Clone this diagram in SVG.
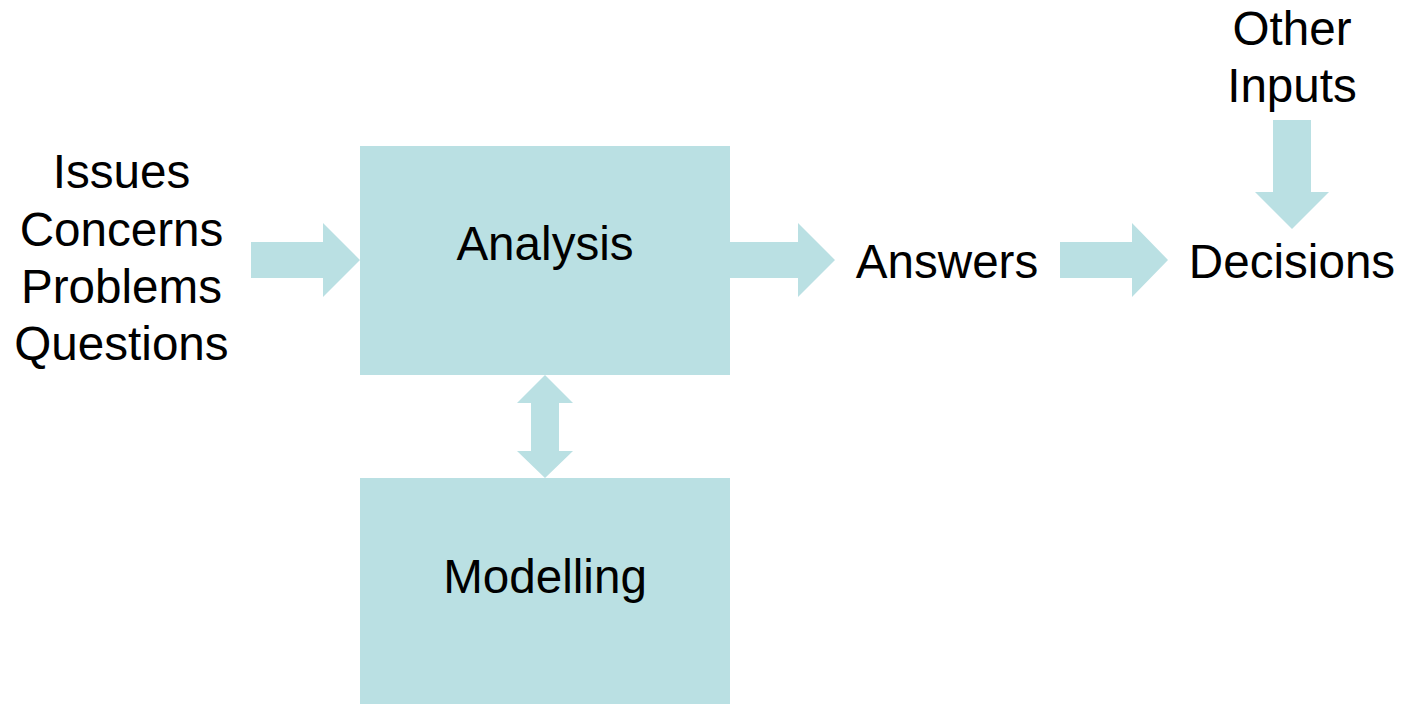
<svg xmlns="http://www.w3.org/2000/svg" width="1404" height="704" viewBox="0 0 1404 704">
<style>
.box{fill:#BAE0E3;}
.arr{fill:#BAE0E3;}
text{font-family:"Liberation Sans",Arial,sans-serif;font-size:47.6px;fill:#000;text-anchor:middle;}
</style>
<rect width="1404" height="704" fill="#fff"/>
<g id="connectors">
<polygon class="arr" points="251,242 323,242 323,223 360,260 323,297 323,278 251,278"/>
<polygon class="arr" points="545,375 573,403 559,403 559,451 573,451 545,478 517,451 531,451 531,403 517,403"/>
<polygon class="arr" points="730,242 798,242 798,223 835,260 798,297 798,278 730,278"/>
<polygon class="arr" points="1060,242 1132,242 1132,223 1168,260 1132,297 1132,278 1060,278"/>
<polygon class="arr" points="1273,120 1311,120 1311,192 1329,192 1292,229 1255,192 1273,192"/>
</g>
<g id="inputs">
<text x="121.5" y="188">Issues</text>
<text x="121.5" y="246">Concerns</text>
<text x="121.5" y="303">Problems</text>
<text x="121.5" y="360">Questions</text>
</g>
<g id="analysis">
<rect class="box" x="360" y="146" width="370" height="229"/>
<text x="545" y="260">Analysis</text>
</g>
<g id="modelling">
<rect class="box" x="360" y="478" width="370" height="230"/>
<text x="545" y="593">Modelling</text>
</g>
<g id="answers">
<text x="947" y="278">Answers</text>
</g>
<g id="decisions">
<text x="1292" y="278">Decisions</text>
</g>
<g id="other-inputs">
<text x="1292" y="45">Other</text>
<text x="1292" y="102">Inputs</text>
</g>
</svg>
